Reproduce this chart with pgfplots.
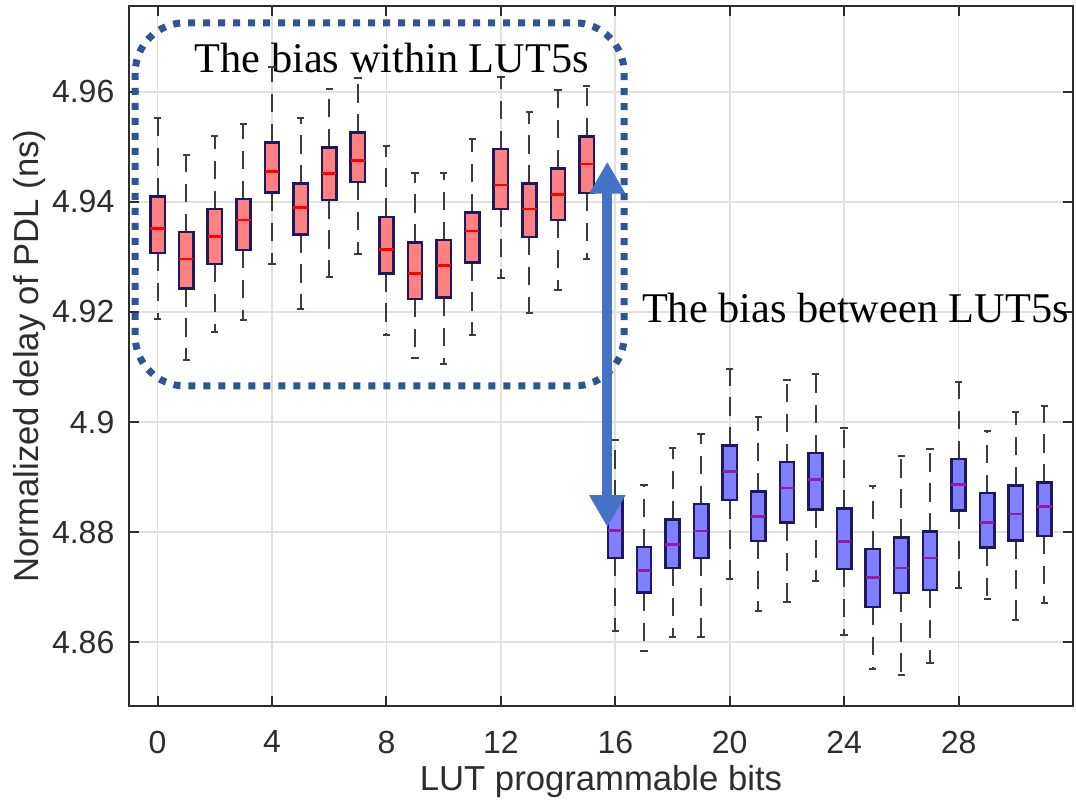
\documentclass[border=0pt]{standalone}
\usepackage{pgfplots}
\pgfplotsset{compat=1.18}
\usetikzlibrary{arrows.meta}
\usepackage{fontspec}
\setmainfont{Liberation Sans}
\newfontfamily\serifann{Liberation Serif}
\definecolor{boxred}{RGB}{255,128,128}
\definecolor{boxblue}{RGB}{128,128,255}
\definecolor{edgenavy}{RGB}{30,25,95}
\definecolor{medred}{RGB}{255,0,0}
\definecolor{medpurple}{RGB}{150,30,160}
\definecolor{whisk}{RGB}{60,60,60}
\definecolor{axgray}{RGB}{45,45,45}
\definecolor{arrowblue}{RGB}{68,114,196}
\definecolor{dotblue}{RGB}{47,85,151}
\definecolor{gridgray}{RGB}{225,225,225}
\pgfplotsset{
  whiskstyle/.style={draw=whisk, line width=0.6pt, dash pattern=on 5.5pt off 3.5pt},
  capstyle/.style={only marks, mark=-, mark size=1.1pt, mark options={solid, draw=whisk, line width=0.6pt}},
}
% #1 pos, #2 lower whisker, #3 q1, #4 median, #5 q3, #6 upper whisker, #7 fill, #8 median colour
\newcommand{\bx}[8]{%
  \pgfmathsetmacro\xl{#1-0.25}\pgfmathsetmacro\xr{#1+0.25}%
  \edef\doit{%
    \noexpand\addplot[whiskstyle] coordinates {(#1,#3) (#1,#2)};
    \noexpand\addplot[whiskstyle] coordinates {(#1,#5) (#1,#6)};
    \noexpand\addplot[capstyle] coordinates {(#1,#2) (#1,#6)};
    \noexpand\addplot[draw=edgenavy, fill=#7, line width=0.75pt] coordinates {(\xl,#3) (\xr,#3) (\xr,#5) (\xl,#5)} --cycle;
    \noexpand\addplot[draw=#8, line width=0.8pt] coordinates {(\xl,#4) (\xr,#4)};
  }\doit}
\begin{document}
\begin{tikzpicture}
\begin{axis}[
  name=ax, scale only axis, width=283.2pt, height=210pt,
  xmin=-1, xmax=32, ymin=4.8484, ymax=4.9756,
  xtick={0,4,...,28}, ytick={4.86,4.88,4.90,4.92,4.94,4.96},
  tick align=inside, major tick length=3pt,
  grid=major, major grid style={draw=gridgray, line width=0.5pt},
  axis line style={draw=axgray, line width=0.6pt},
  tick style={draw=axgray, line width=0.6pt},
  /pgf/number format/assume math mode=true,
  tick label style={font=\fontsize{9.6}{11}\selectfont, text=axgray, inner sep=0pt},
  xticklabel style={yshift=-7.2pt},
  yticklabel style={xshift=-4.2pt},
  xlabel={LUT programmable bits}, ylabel={Normalized delay of PDL (ns)},
  label style={font=\fontsize{10.4}{12}\selectfont, text=axgray, inner sep=0pt},
  xlabel style={at={(axis description cs:0.5,-0.0843)}, anchor=north},
  ylabel style={at={(axis description cs:-0.1049,0.5)}, anchor=center},
  clip=false,
]
% red group (bits 0-15)
\bx{0}{4.9187}{4.9307}{4.9352}{4.9410}{4.9552}{boxred}{medred}
\bx{1}{4.9112}{4.9243}{4.9296}{4.9345}{4.9485}{boxred}{medred}
\bx{2}{4.9163}{4.9287}{4.9337}{4.9387}{4.9520}{boxred}{medred}
\bx{3}{4.9185}{4.9313}{4.9367}{4.9405}{4.9542}{boxred}{medred}
\bx{4}{4.9287}{4.9417}{4.9455}{4.9508}{4.9645}{boxred}{medred}
\bx{5}{4.9205}{4.9341}{4.9390}{4.9433}{4.9553}{boxred}{medred}
\bx{6}{4.9263}{4.9403}{4.9452}{4.9499}{4.9605}{boxred}{medred}
\bx{7}{4.9305}{4.9436}{4.9475}{4.9526}{4.9625}{boxred}{medred}
\bx{8}{4.9159}{4.9270}{4.9313}{4.9373}{4.9502}{boxred}{medred}
\bx{9}{4.9116}{4.9224}{4.9270}{4.9326}{4.9452}{boxred}{medred}
\bx{10}{4.9105}{4.9226}{4.9285}{4.9331}{4.9452}{boxred}{medred}
\bx{11}{4.9158}{4.9290}{4.9347}{4.9381}{4.9515}{boxred}{medred}
\bx{12}{4.9261}{4.9387}{4.9431}{4.9496}{4.9627}{boxred}{medred}
\bx{13}{4.9199}{4.9336}{4.9387}{4.9433}{4.9563}{boxred}{medred}
\bx{14}{4.9240}{4.9367}{4.9413}{4.9461}{4.9604}{boxred}{medred}
\bx{15}{4.9296}{4.9416}{4.9469}{4.9519}{4.9610}{boxred}{medred}
% blue group (bits 16-31)
\bx{16}{4.8621}{4.8753}{4.8803}{4.8861}{4.8968}{boxblue}{medpurple}
\bx{17}{4.8584}{4.8690}{4.8730}{4.8773}{4.8885}{boxblue}{medpurple}
\bx{18}{4.8610}{4.8735}{4.8777}{4.8823}{4.8952}{boxblue}{medpurple}
\bx{19}{4.8610}{4.8753}{4.8802}{4.8851}{4.8978}{boxblue}{medpurple}
\bx{20}{4.8714}{4.8858}{4.8910}{4.8957}{4.9097}{boxblue}{medpurple}
\bx{21}{4.8656}{4.8784}{4.8828}{4.8874}{4.9010}{boxblue}{medpurple}
\bx{22}{4.8673}{4.8817}{4.8880}{4.8927}{4.9076}{boxblue}{medpurple}
\bx{23}{4.8712}{4.8841}{4.8895}{4.8944}{4.9087}{boxblue}{medpurple}
\bx{24}{4.8613}{4.8733}{4.8783}{4.8843}{4.8990}{boxblue}{medpurple}
\bx{25}{4.8552}{4.8664}{4.8717}{4.8769}{4.8884}{boxblue}{medpurple}
\bx{26}{4.8541}{4.8689}{4.8735}{4.8790}{4.8938}{boxblue}{medpurple}
\bx{27}{4.8562}{4.8695}{4.8753}{4.8801}{4.8951}{boxblue}{medpurple}
\bx{28}{4.8698}{4.8839}{4.8886}{4.8933}{4.9072}{boxblue}{medpurple}
\bx{29}{4.8678}{4.8772}{4.8817}{4.8871}{4.8984}{boxblue}{medpurple}
\bx{30}{4.8640}{4.8785}{4.8833}{4.8885}{4.9018}{boxblue}{medpurple}
\bx{31}{4.8671}{4.8793}{4.8846}{4.8890}{4.9029}{boxblue}{medpurple}
% annotations
\draw[dotblue, line width=2.1pt, dash pattern=on 2.1pt off 2.4pt, rounded corners=15pt]
  (axis cs:-0.783,4.97255) rectangle (axis cs:16.31,4.90655);
\draw[arrowblue, line width=3pt, {Triangle[width=10.2pt,length=9.6pt]}-{Triangle[width=10.2pt,length=9.6pt]}]
  (axis cs:15.72,4.9473) -- (axis cs:15.72,4.8809);
\node[anchor=base west, inner sep=0pt, font=\serifann\fontsize{12.7}{14}\selectfont]
  at (axis cs:1.28,4.96345) {The bias within LUT5s};
\node[anchor=base west, inner sep=0pt, font=\serifann\fontsize{12.7}{14}\selectfont]
  at (axis cs:16.91,4.918) {The bias between LUT5s};
\end{axis}
\pgfresetboundingbox
\path[use as bounding box] ([shift={(-38.7pt,-31.2pt)}]ax.south west) rectangle ([shift={(0.9pt,1.8pt)}]ax.north east);
\end{tikzpicture}
\end{document}
